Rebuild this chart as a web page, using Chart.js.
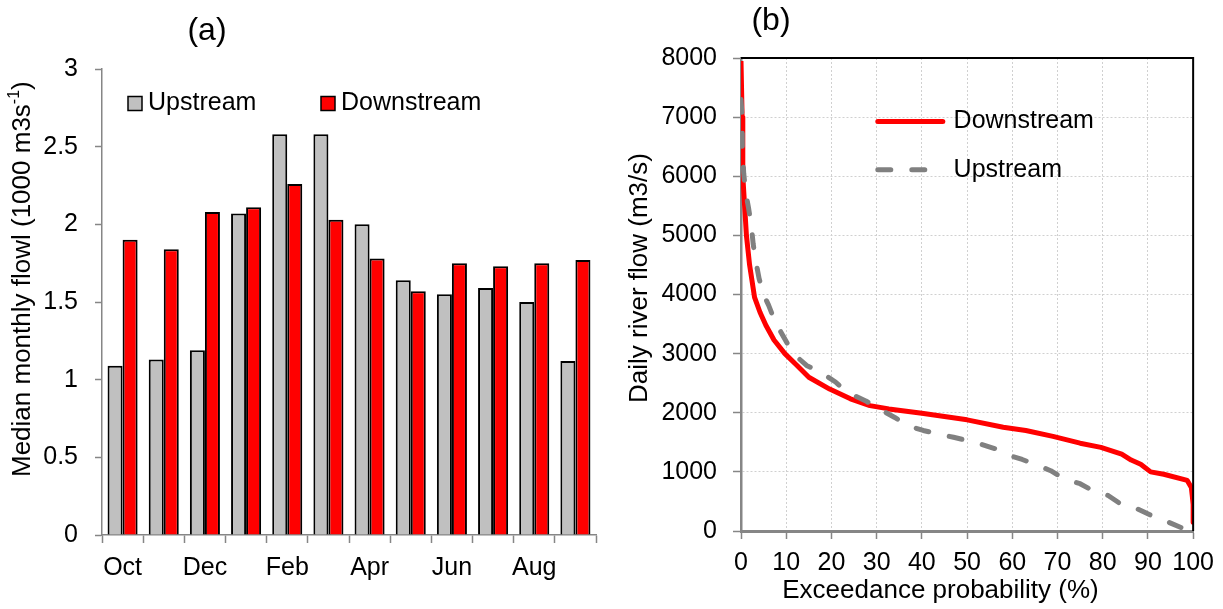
<!DOCTYPE html>
<html>
<head>
<meta charset="utf-8">
<title>Monthly flow and flow duration</title>
<script src="https://cdn.jsdelivr.net/npm/chart.js@4.4.0/dist/chart.umd.min.js"></script>
<style>
  html, body { margin: 0; padding: 0; background: #fff; }
  #wrap { position: relative; width: 1223px; height: 609px; }
  #monthlyChart { position: absolute; left: 0; top: 0; }
  #durationChart { position: absolute; left: 620px; top: 0; }
</style>
</head>
<body>
<div id="wrap">
  <canvas id="monthlyChart" width="620" height="609"></canvas>
  <canvas id="durationChart" width="603" height="609"></canvas>
</div>
<script>
// (a) median monthly flow, 1000 m3/s
const months = ['Oct','Nov','Dec','Jan','Feb','Mar','Apr','May','Jun','Jul','Aug','Sep'];
const upstreamMonthly   = [1.09, 1.13, 1.19, 2.07, 2.58, 2.58, 2.00, 1.64, 1.55, 1.59, 1.50, 1.12];
const downstreamMonthly = [1.90, 1.84, 2.08, 2.11, 2.26, 2.03, 1.78, 1.57, 1.75, 1.73, 1.75, 1.77];

// (b) flow duration curves: exceedance % and daily flow m3/s
const downstreamProb = [0, 0.25, 0.4, 0.8, 1.2, 1.9, 3.0, 4.2, 5.5, 7.3, 9.7, 12, 15, 19.6, 24.2, 28.5, 32.7, 40,
                        50, 58, 63, 69, 75, 79.6, 84.2, 86.3, 88.4, 90.6, 93.5, 98.7, 99.6, 99.8, 100, 100];
const downstreamFlow = [7950, 7000, 6000, 5500, 5000, 4500, 3950, 3700, 3480, 3230, 3000, 2830, 2600, 2400, 2235, 2120, 2065, 1990,
                        1880, 1755, 1700, 1600, 1485, 1415, 1300, 1200, 1130, 1000, 960, 855, 735, 600, 450, 150];
const upstreamProb = [0, 0.25, 0.3, 0.6, 1, 1.7, 2.3, 2.7, 3.3, 4, 5, 6.1, 7.5, 9, 10.7, 12, 14.5, 17.5, 20.9, 23.4,
                      27.6, 30, 34, 37, 40.3, 43.7, 47, 50, 53, 56.3, 59.7, 62.2, 65.6, 68.5, 71.5, 75, 78.3, 81.2,
                      84.3, 87.5, 90.8, 93.6, 97.3];
const upstreamFlow = [7300, 7000, 6500, 6050, 5750, 5450, 5150, 4850, 4550, 4270, 4000, 3820, 3550, 3340, 3110, 2970, 2800, 2690, 2520, 2350,
                      2200, 2090, 1920, 1780, 1700, 1640, 1585, 1530, 1470, 1390, 1270, 1210, 1110, 1020, 880, 800, 660, 600,
                      440, 380, 260, 180, 60];

const FAMILY = "'Liberation Sans', Arial, sans-serif";
const AXIS_GREY = '#868686';
Chart.defaults.color = '#000';
Chart.defaults.font.family = FAMILY;

function text(ctx, str, x, y, size, align) {
  ctx.font = size + 'px ' + FAMILY;
  ctx.textAlign = align || 'left';
  ctx.textBaseline = 'middle';
  ctx.fillText(str, x, y);
}

// panel letter, rotated axis title (with superscript) and the boxed legend
const monthlyDecor = {
  id: 'monthlyDecor',
  afterDraw(chart) {
    const { ctx, chartArea: a } = chart;
    ctx.save();
    ctx.fillStyle = '#000';
    text(ctx, '(a)', 207, 31, 32, 'center');

    ctx.save();
    ctx.translate(23, 477);
    ctx.rotate(-Math.PI / 2);
    const main = 'Median monthly flowl (1000 m3s';
    text(ctx, main, 0, 0, 26);
    let w = ctx.measureText(main).width;
    text(ctx, '-1', w, -8, 16);
    w += ctx.measureText('-1').width;
    text(ctx, ')', w, 0, 26);
    ctx.restore();

    const slots = [26, 219];
    chart.data.datasets.forEach((ds, i) => {
      const x = a.left + slots[i], y = a.top + 27.5;
      ctx.fillStyle = ds.backgroundColor;
      ctx.fillRect(x, y, 14, 14);
      ctx.strokeStyle = '#000';
      ctx.lineWidth = 1.5;
      ctx.strokeRect(x, y, 14, 14);
      ctx.fillStyle = '#000';
      text(ctx, ds.label, x + 20, y + 7, 25);
    });
    ctx.restore();
  }
};

new Chart(document.getElementById('monthlyChart'), {
  type: 'bar',
  data: {
    labels: months,
    datasets: [
      { label: 'Upstream', data: upstreamMonthly, backgroundColor: '#c0c0c0', borderColor: '#000', borderWidth: 2,
        categoryPercentage: 0.73, barPercentage: 1 },
      { label: 'Downstream', data: downstreamMonthly, backgroundColor: '#ff0000', borderColor: '#000', borderWidth: 2,
        categoryPercentage: 0.73, barPercentage: 1 }
    ]
  },
  options: {
    responsive: false,
    animation: false,
    layout: { padding: { top: 69, right: 24, left: 0, bottom: 0 } },
    plugins: { legend: { display: false }, tooltip: { enabled: false } },
    scales: {
      x: {
        grid: { drawOnChartArea: false, offset: true, tickLength: 8, tickColor: AXIS_GREY, tickWidth: 1.5 },
        border: { color: AXIS_GREY, width: 1.5 },
        ticks: { autoSkip: false, maxRotation: 0, minRotation: 0, padding: 10, font: { size: 25 },
                 callback: (v, i) => (i % 2 ? '' : months[i]) },
        afterFit: s => { s.height = 74; }
      },
      y: {
        min: 0, max: 3,
        grid: { drawOnChartArea: false, tickLength: 7, tickColor: AXIS_GREY, tickWidth: 1.5 },
        border: { color: AXIS_GREY, width: 1.5 },
        ticks: { stepSize: 0.5, padding: 17, font: { size: 25 }, callback: v => String(v) },
        afterFit: s => { s.width = 102; }
      }
    }
  },
  plugins: [monthlyDecor]
});

// frame, panel letter, axis titles and line legend
const durationDecor = {
  id: 'durationDecor',
  afterDraw(chart) {
    const { ctx, chartArea: a } = chart;
    ctx.save();
    ctx.strokeStyle = '#000';
    ctx.lineWidth = 2;
    ctx.beginPath();
    ctx.moveTo(a.left, a.top);
    ctx.lineTo(a.right, a.top);
    ctx.lineTo(a.right, a.bottom);
    ctx.stroke();

    ctx.fillStyle = '#000';
    text(ctx, '(b)', 151, 21, 32, 'center');
    text(ctx, 'Exceedance probability (%)', 320.5, 591, 26, 'center');
    ctx.save();
    ctx.translate(20, 403);
    ctx.rotate(-Math.PI / 2);
    text(ctx, 'Daily river flow (m3/s)', 0, 0, 26);
    ctx.restore();

    const rows = [63.4, 111.7];
    chart.data.datasets.forEach((ds, i) => {
      const y = a.top + rows[i];
      ctx.save();
      ctx.strokeStyle = ds.borderColor;
      ctx.lineWidth = ds.borderWidth;
      ctx.lineCap = 'round';
      ctx.setLineDash(ds.borderDash || []);
      ctx.beginPath();
      ctx.moveTo(a.left + 136.8, y);
      ctx.lineTo(a.left + 201.8, y);
      ctx.stroke();
      ctx.restore();
      text(ctx, ds.label, a.left + 212.6, y, 25);
    });
    ctx.restore();
  }
};

const toPoints = (xs, ys) => xs.map((x, i) => ({ x, y: ys[i] }));

new Chart(document.getElementById('durationChart'), {
  type: 'scatter',
  data: {
    datasets: [
      { label: 'Downstream', data: toPoints(downstreamProb, downstreamFlow), showLine: true, pointRadius: 0,
        borderColor: '#ff0000', borderWidth: 5, borderJoinStyle: 'round', tension: 0, order: 1 },
      { label: 'Upstream', data: toPoints(upstreamProb, upstreamFlow), showLine: true, pointRadius: 0,
        borderColor: '#808080', borderWidth: 5, borderDash: [13, 21], borderCapStyle: 'round',
        borderJoinStyle: 'round', tension: 0, order: 0 }
    ]
  },
  options: {
    responsive: false,
    animation: false,
    layout: { padding: { top: 58, right: 27, left: 0, bottom: 0 } },
    plugins: { legend: { display: false }, tooltip: { enabled: false } },
    scales: {
      x: {
        type: 'linear', min: 0, max: 100,
        grid: { color: '#d0d0d0', lineWidth: 1, tickLength: 8, tickColor: AXIS_GREY, tickWidth: 1.5 },
        border: { color: AXIS_GREY, width: 3, dash: [2, 2] },
        ticks: { stepSize: 10, padding: 9, maxRotation: 0, font: { size: 25 } },
        afterFit: s => { s.height = 78; }
      },
      y: {
        min: 0, max: 8000,
        grid: { color: '#d0d0d0', lineWidth: 1, tickLength: 8, tickColor: AXIS_GREY, tickWidth: 1.5 },
        border: { color: AXIS_GREY, width: 2.5, dash: [2, 2] },
        ticks: { stepSize: 1000, padding: 16, font: { size: 25 }, callback: v => String(v) },
        afterFit: s => { s.width = 121; }
      }
    }
  },
  plugins: [durationDecor]
});
</script>
</body>
</html>
